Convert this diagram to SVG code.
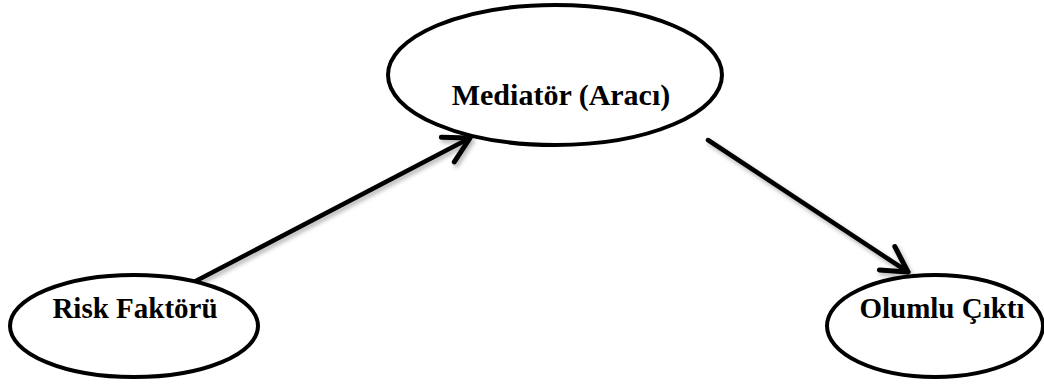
<svg xmlns="http://www.w3.org/2000/svg" width="1044" height="387" viewBox="0 0 1044 387">
  <style>
    .node ellipse { fill: #ffffff; stroke: #000000; stroke-width: 4; }
    .node text { font-family: "Liberation Serif", "Times New Roman", serif; font-weight: bold; font-size: 29px; fill: #000000; text-anchor: middle; }
    .edge { fill: none; stroke: #000000; stroke-width: 4.5; stroke-linecap: round; }
  </style>
  <defs>
    <marker id="arrow" markerUnits="userSpaceOnUse" viewBox="-30 -20 40 40" markerWidth="40" markerHeight="40" refX="0" refY="0" orient="auto" overflow="visible">
      <path d="M -25 -14 L 0 0 L -25 14" fill="none" stroke="#000000" stroke-width="5" stroke-linecap="round" stroke-linejoin="round"/>
    </marker>
    <filter id="soft-shadow" x="-10%" y="-10%" width="130%" height="140%">
      <feDropShadow dx="2" dy="3" stdDeviation="2" flood-color="#000000" flood-opacity="0.3"/>
    </filter>
  </defs>

  <rect width="1044" height="387" fill="#ffffff"/>

  <!-- connectors -->
  <g id="connectors" filter="url(#soft-shadow)">
    <line class="edge" x1="192" y1="283" x2="470" y2="138" marker-end="url(#arrow)"/>
    <line class="edge" x1="708" y1="140" x2="908" y2="272" marker-end="url(#arrow)"/>
  </g>

  <!-- nodes -->
  <g id="node-mediator" class="node">
    <ellipse cx="555" cy="75" rx="167" ry="70"/>
    <text x="561" y="105" style="font-size:30px">Mediatör (Aracı)</text>
  </g>
  <g id="node-risk" class="node">
    <ellipse cx="134" cy="326" rx="124" ry="51"/>
    <text x="135" y="318">Risk Faktörü</text>
  </g>
  <g id="node-outcome" class="node">
    <ellipse cx="935" cy="326" rx="108" ry="51"/>
    <text x="942" y="318">Olumlu Çıktı</text>
  </g>
</svg>
